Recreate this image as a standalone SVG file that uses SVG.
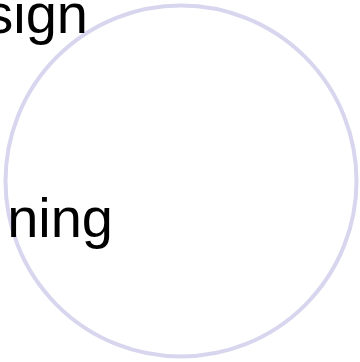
<svg xmlns="http://www.w3.org/2000/svg" width="360" height="362" viewBox="0 0 360 362">
<style>
.lbl{font-family:"Liberation Sans",Arial,sans-serif;font-size:56px;fill:#000;text-anchor:end}
</style>
<rect width="360" height="362" fill="#fff"/>
<g id="circle">
<circle cx="181" cy="181" r="175.5" fill="none" stroke="#d8d6ee" stroke-width="4"/>
</g>
<g id="labels">
<text class="lbl" x="88" y="33">sign</text>
<text class="lbl" x="113" y="237">ning</text>
</g>
</svg>
